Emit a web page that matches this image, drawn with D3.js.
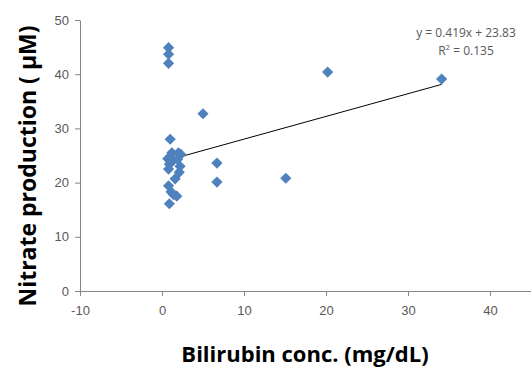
<!DOCTYPE html>
<html>
<head>
<meta charset="utf-8">
<script src="https://cdn.jsdelivr.net/npm/d3@7"></script>
<style>
  body { margin: 0; background: #fff; }
  svg { display: block; font-family: "Open Sans", "Liberation Sans", sans-serif; }
</style>
</head>
<body>
<svg id="chart" width="531" height="367"></svg>
<script>
// bilirubin (mg/dL) vs nitrate production (uM)
const bilirubin = [0.8, 0.8, 0.8, 1.0, 0.9, 0.7, 1.2, 2.0, 2.3, 0.9, 2.2, 2.1, 0.8, 1.6, 0.8, 1.1, 1.4, 1.8, 1.3, 5.0, 20.2, 34.1, 15.1, 6.7, 6.7, 1.0, 1.9];
const nitrate   = [44.9, 43.7, 42.0, 28.0, 16.1, 24.4, 25.5, 25.5, 25.2, 23.4, 23.0, 21.9, 22.5, 20.7, 19.4, 18.3, 17.8, 17.5, 24.0, 32.7, 40.4, 39.1, 20.8, 23.6, 20.1, 24.8, 24.3];
const xTicks = [-10, 0, 10, 20, 30, 40];
const yTicks = [0, 10, 20, 30, 40, 50];
const slope = 0.419, intercept = 23.83;
const eqLabel = 'y = 0.419x + 23.83';

const svg = d3.select('#chart');
const x = d3.scaleLinear().domain([-10, 45]).range([80, 531]);
const y = d3.scaleLinear().domain([0, 50]).range([291, 20]);
const axisColor = '#868686';
const textColor = '#595959';

// plain hyphen for negatives, like the original
const fmt = d => String(d);

const xAxis = svg.append('g')
    .attr('transform', `translate(0,${y(0)})`)
    .call(d3.axisBottom(x).tickValues(xTicks).tickFormat(fmt).tickSize(5).tickPadding(10).tickSizeOuter(0));
const yAxis = svg.append('g')
    .attr('transform', `translate(${x(-10)},0)`)
    .call(d3.axisLeft(y).tickValues(yTicks).tickFormat(fmt).tickSize(5).tickPadding(6).tickSizeOuter(0));

[xAxis, yAxis].forEach(g => {
    g.select('.domain').attr('stroke', axisColor);
    g.selectAll('.tick line').attr('stroke', axisColor);
    g.selectAll('.tick text').attr('fill', textColor).style('font-size', '13px');
});

// trend line over the data range
const [xMin, xMax] = d3.extent(bilirubin);
svg.append('line')
    .attr('x1', x(xMin)).attr('y1', y(slope * xMin + intercept))
    .attr('x2', x(xMax)).attr('y2', y(slope * xMax + intercept))
    .attr('stroke', '#000')
    .attr('stroke-width', 1);

const points = bilirubin.map((b, i) => ({ b, n: nitrate[i] }));
svg.selectAll('path.pt')
    .data(points)
    .enter()
    .append('path')
    .attr('class', 'pt')
    .attr('d', d3.symbol().type(d3.symbolDiamond2).size(80))
    .attr('transform', d => `translate(${x(d.b)},${y(d.n)})`)
    .attr('fill', '#4f81bd');

svg.append('text')
    .attr('x', 466).attr('y', 37)
    .attr('text-anchor', 'middle')
    .attr('fill', textColor)
    .style('font-size', '12px')
    .text(eqLabel);
const r2 = svg.append('text')
    .attr('x', 466).attr('y', 55)
    .attr('text-anchor', 'middle')
    .attr('fill', textColor)
    .style('font-size', '12px');
r2.append('tspan').text('R');
r2.append('tspan').attr('dy', -5).style('font-size', '8px').text('2');
r2.append('tspan').attr('dy', 5).text(' = 0.135');

svg.append('text')
    .attr('x', 305).attr('y', 362)
    .attr('text-anchor', 'middle')
    .style('font-size', '22px')
    .style('font-weight', 'bold')
    .text('Bilirubin conc. (mg/dL)');
svg.append('text')
    .attr('transform', 'translate(36,166) rotate(-90)')
    .attr('text-anchor', 'middle')
    .style('font-size', '23px')
    .style('font-weight', 'bold')
    .text('Nitrate production ( µM)');
</script>
</body>
</html>
